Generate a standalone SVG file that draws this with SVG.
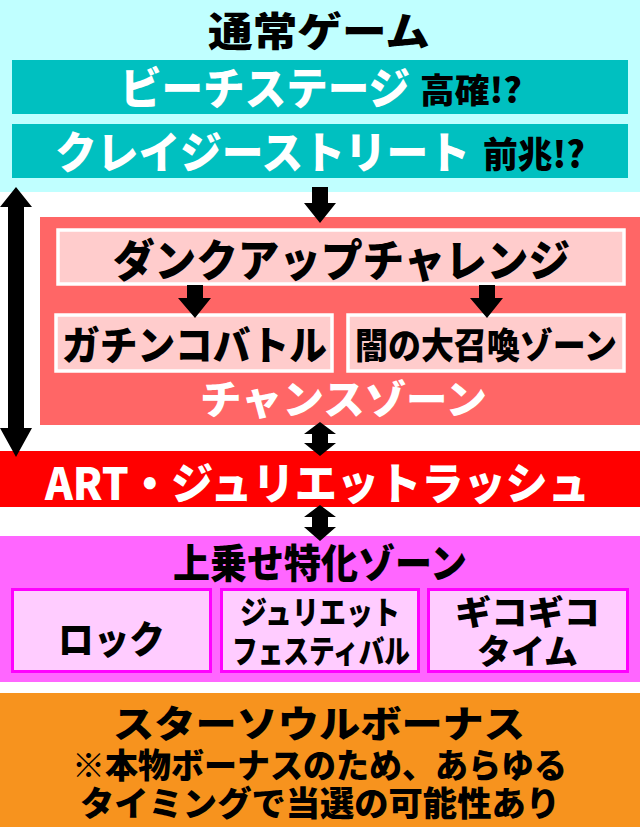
<svg xmlns="http://www.w3.org/2000/svg" width="640" height="827" viewBox="0 0 640 827">
<style>
text{font-family:"Noto Sans CJK JP","Noto Sans",sans-serif;font-weight:900;dominant-baseline:central}
.w{fill:#ffffff}
.k{fill:#000000}
.teal{fill:#00C0C0}
.pk{fill:#FFCCCC;stroke:#ffffff;stroke-width:3.5}
.mg{fill:#FFCCFF;stroke:#FF00FF;stroke-width:3}
.arr{fill:#000000}
</style>
<g id="normal">
<rect x="0" y="0" width="640" height="192" fill="#C0FFFF"/>
<text class="k" x="208" y="29" font-size="40" textLength="222" lengthAdjust="spacingAndGlyphs">通常ゲーム</text>
</g>
<g id="beach">
<rect class="teal" x="12" y="60" width="616" height="54"/>
<text class="w" x="120" y="86" font-size="44" textLength="290" lengthAdjust="spacingAndGlyphs">ビーチステージ</text>
<text class="k" x="420" y="88" font-size="34" textLength="102" lengthAdjust="spacingAndGlyphs">高確!?</text>
</g>
<g id="crazy">
<rect class="teal" x="12" y="124" width="616" height="54"/>
<text class="w" x="55" y="150" font-size="44" textLength="415" lengthAdjust="spacingAndGlyphs">クレイジーストリート</text>
<text class="k" x="483" y="152" font-size="36" textLength="102" lengthAdjust="spacingAndGlyphs">前兆!?</text>
</g>
<g id="chance">
<rect x="40" y="217" width="600" height="208" fill="#FF6666"/>
<text class="w" x="200" y="397" font-size="40" textLength="287" lengthAdjust="spacingAndGlyphs">チャンスゾーン</text>
</g>
<g id="dunk">
<rect class="pk" x="58" y="230" width="566" height="54"/>
<text class="k" x="113" y="258" font-size="44" textLength="457" lengthAdjust="spacingAndGlyphs">ダンクアップチャレンジ</text>
</g>
<g id="gachinko">
<rect class="pk" x="56" y="315" width="276" height="56"/>
<text class="k" x="62" y="343" font-size="40" textLength="265" lengthAdjust="spacingAndGlyphs">ガチンコバトル</text>
</g>
<g id="yami">
<rect class="pk" x="348" y="315" width="276" height="56"/>
<text class="k" x="355" y="343" font-size="36" textLength="262" lengthAdjust="spacingAndGlyphs">闇の大召喚ゾーン</text>
</g>
<g id="art">
<rect x="0" y="451" width="640" height="56" fill="#FF0000"/>
<text class="w" x="45" y="481" font-size="44" textLength="545" lengthAdjust="spacingAndGlyphs">ART・ジュリエットラッシュ</text>
</g>
<g id="uwanose">
<rect x="0" y="536" width="640" height="146" fill="#FF66FF"/>
<text class="k" x="173" y="561" font-size="40" textLength="294" lengthAdjust="spacingAndGlyphs">上乗せ特化ゾーン</text>
</g>
<g id="rock">
<rect class="mg" x="12.5" y="589.5" width="198" height="82"/>
<text class="k" x="58" y="636" font-size="38" textLength="107" lengthAdjust="spacingAndGlyphs">ロック</text>
</g>
<g id="festival">
<rect class="mg" x="221.5" y="589.5" width="197" height="82"/>
<text class="k" x="240" y="610" font-size="32" textLength="160" lengthAdjust="spacingAndGlyphs">ジュリエット</text>
<text class="k" x="232" y="649" font-size="32" textLength="178" lengthAdjust="spacingAndGlyphs">フェスティバル</text>
</g>
<g id="gikogiko">
<rect class="mg" x="428.5" y="589.5" width="199" height="82"/>
<text class="k" x="455" y="610" font-size="34" textLength="145" lengthAdjust="spacingAndGlyphs">ギコギコ</text>
<text class="k" x="477" y="649" font-size="34" textLength="101" lengthAdjust="spacingAndGlyphs">タイム</text>
</g>
<g id="starsoul">
<rect x="0" y="693" width="640" height="134" fill="#F7931E"/>
<text class="k" x="113" y="722" font-size="37" textLength="412" lengthAdjust="spacingAndGlyphs">スターソウルボーナス</text>
<text class="k" x="72" y="763" font-size="34" textLength="495" lengthAdjust="spacingAndGlyphs">※本物ボーナスのため、あらゆる</text>
<text class="k" x="80" y="801" font-size="34" textLength="480" lengthAdjust="spacingAndGlyphs">タイミングで当選の可能性あり</text>
</g>
<g id="connectors">
<polygon class="arr" points="16,187 32,207 24,207 24,428 32,428 16,457 0,428 8,428 8,207 0,207"/>
<polygon class="arr" points="312,187 328,187 328,203 336,203 320,223 304,203 312,203"/>
<polygon class="arr" points="187,285 203,285 203,298 211,298 195,318 178,298 187,298"/>
<polygon class="arr" points="479,285 495,285 495,298 503,298 487,318 470,298 479,298"/>
<polygon class="arr" points="320,422 336,434 328,434 328,443 336,443 320,456 304,443 312,443 312,434 304,434"/>
<polygon class="arr" points="320,505 336,517 328,517 328,527 336,527 320,541 304,527 312,527 312,517 304,517"/>
</g>
</svg>
